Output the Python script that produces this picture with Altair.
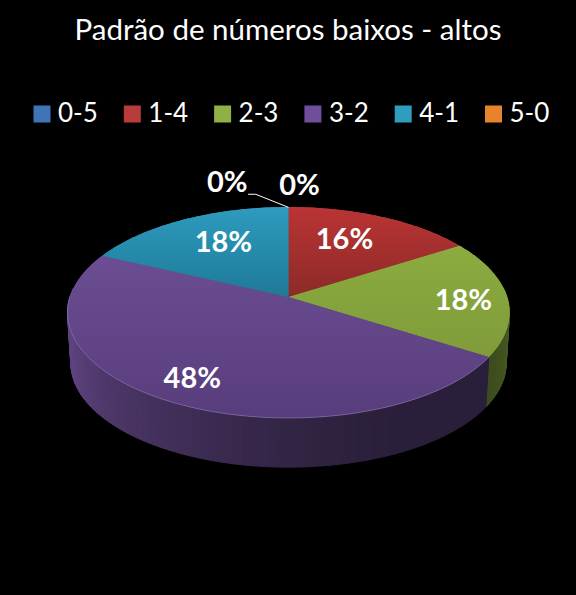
import math
import altair as alt

# --- data ---
categories = ["0-5", "1-4", "2-3", "3-2", "4-1", "5-0"]
values = [0, 16, 18, 48, 18, 0]
labels = ["0%", "16%", "18%", "48%", "18%", "0%"]
legend_colors = ["#3f74b5", "#b83c3a", "#8fb045", "#6f4f9c", "#2f9dbd", "#e8832d"]
top_light = ["#3f74b5", "#ba3434", "#8cab40", "#6b4d93", "#2e9bbf", "#e8832d"]
top_dark = ["#2f5a90", "#8c2a28", "#7f9c39", "#583d7c", "#1e7a97", "#b8661f"]
wall_start = {"2-3": "#3c4b1d", "3-2": "#2a1f3a"}
wall_end = {"2-3": "#526728", "3-2": "#5e4380"}

# label positions in the pie's own plane (x right, y down; 1 = pie radius)
label_x = [-0.280, 0.256, 0.80, -0.440, -0.298, 0.050]
label_y = [-0.520, -0.259, 0.020, 0.377, -0.246, -0.510]
leader_x = [0.0, -0.150, -0.185]
leader_y = [-0.410, -0.470, -0.470]

# geometry of the tilted disc
RX, RY_RATIO, K = 218.6, 103.2 / 218.6, 0.147
CX, CY = 280.5, 289.0      # pie apex inside the plot area
DEPTH_Y = 51.0 / RX
BOTTOM_SHRINK = 0.985


def project(deg, bottom=False):
    t = math.radians(deg)
    u, v = math.sin(t), -math.cos(t)
    w = 1 - K * v
    x, y = u / w, RY_RATIO * v / w
    if bottom:
        return [x * BOTTOM_SHRINK, y * BOTTOM_SHRINK + DEPTH_Y]
    return [x, y]


def arc(a0, a1, bottom=False, step=1.0):
    n = max(1, int(math.ceil((a1 - a0) / step)))
    return [project(a0 + (a1 - a0) * i / n, bottom) for i in range(n + 1)]


def mix(c0, c1, f):
    a = [int(c0[i:i + 2], 16) for i in (1, 3, 5)]
    b = [int(c1[i:i + 2], 16) for i in (1, 3, 5)]
    return "#%02x%02x%02x" % tuple(round(p + (q - p) * f) for p, q in zip(a, b))


def collection(features):
    return alt.InlineData(
        values={"type": "FeatureCollection", "features": features},
        format=alt.DataFormat(type="json", property="features"),
    )


def poly(ring, **props):
    return {"type": "Feature", "properties": props,
            "geometry": {"type": "Polygon", "coordinates": [ring + [ring[0]]]}}


def line(pts, **props):
    return {"type": "Feature", "properties": props,
            "geometry": {"type": "LineString", "coordinates": pts}}


# angular span of every slice, clockwise from twelve o'clock
total = sum(values)
spans, start = {}, 0.0
for c, val in zip(categories, values):
    spans[c] = (start, start + 360.0 * val / total)
    start = spans[c][1]

# side wall, drawn as narrow bands shaded by position
wall_features = []
for c in wall_start:
    a0, a1 = spans[c]
    a0, a1 = max(a0, 85.0), min(a1, 275.0)
    deg = a0
    while deg < a1:
        d1 = min(deg + 2.0, a1)
        if c == "2-3":
            f = (((deg + d1) / 2) - 85.0) / (a1 - 85.0)
            col = mix(wall_end[c], wall_start[c], f)
        else:
            g = ((deg + d1) / 2 - a0) / (a1 - a0)
            col = mix(wall_start[c], wall_end[c], min(1.0, max(0.0, (g - 0.2) / 0.65)) ** 1.4)
        ring = arc(deg, d1) + arc(deg, d1, bottom=True)[::-1]
        wall_features.append(poly(ring, color=col))
        deg = d1

walls = alt.Chart(collection(wall_features)).mark_geoshape(strokeWidth=1).encode(
    fill=alt.Color("properties.color:N", scale=None),
    stroke=alt.Color("properties.color:N", scale=None),
)

# flat top faces carry the legend
flat = [poly([[0.0, 0.0]] + arc(*spans[c]), cat=c) for c, v in zip(categories, values) if v > 0]
legend_layer = alt.Chart(collection(flat)).mark_geoshape(strokeWidth=0).encode(
    fill=alt.Fill(
        "properties.cat:N",
        scale=alt.Scale(domain=categories, range=legend_colors),
        legend=alt.Legend(
            title=None, orient="none", legendX=21, legendY=93, direction="horizontal",
            columns=6, symbolType="square", symbolSize=289, symbolStrokeWidth=0,
            labelColor="#ffffff", labelFont="Lato", labelFontSize=26, labelLimit=100,
            columnPadding=21.3, labelOffset=3, rowPadding=0,
        ),
    )
)

# shaded top faces
top_layers = []
for c, v, c0, c1 in zip(categories, values, top_light, top_dark):
    if v == 0:
        continue
    grad = alt.Gradient(gradient="linear", x1=0, x2=0, y1=0, y2=1,
                        stops=[alt.GradientStop(color=c0, offset=0),
                               alt.GradientStop(color=c1, offset=1)])
    top_layers.append(
        alt.Chart(collection([poly([[0.0, 0.0]] + arc(*spans[c]), cat=c)]))
        .mark_geoshape(fill=grad, strokeWidth=0)
    )

rim = alt.Chart(collection([line(arc(122.4, 270.0))])).mark_geoshape(
    filled=False, stroke="#8a72ad", strokeWidth=1, strokeOpacity=0.7
)
leader = alt.Chart(collection([line([[x, y] for x, y in zip(leader_x, leader_y)])])).mark_geoshape(
    filled=False, stroke="#ffffff", strokeWidth=1
)

text_rows = [{"t": t, "lon": x, "lat": y} for t, x, y in zip(labels, label_x, label_y)]
texts = alt.Chart(alt.Data(values=text_rows)).mark_text(
    font="Lato", fontWeight="bold", fontSize=29, color="#ffffff", baseline="middle", align="center"
).encode(longitude="lon:Q", latitude="lat:Q", text="t:N")

chart = alt.layer(walls, legend_layer, *top_layers, rim, leader, texts).project(
    type="identity", scale=RX, translate=[CX, CY]
).properties(
    width=560, height=579, padding=0,
    autosize=alt.AutoSizeParams(type="none"),
    background="#000000",
    title=alt.TitleParams(
        "Padrão de números baixos - altos", font="Lato", fontSize=29.5, fontWeight="normal",
        color="#ffffff", anchor="middle", frame="group", orient="top", dy=42, dx=0,
    ),
).configure_view(stroke=None)

chart.save("out.html", embed_options={"renderer": "svg", "actions": False,
                                      "defaultStyle": "html,body{background:#000000}"})
